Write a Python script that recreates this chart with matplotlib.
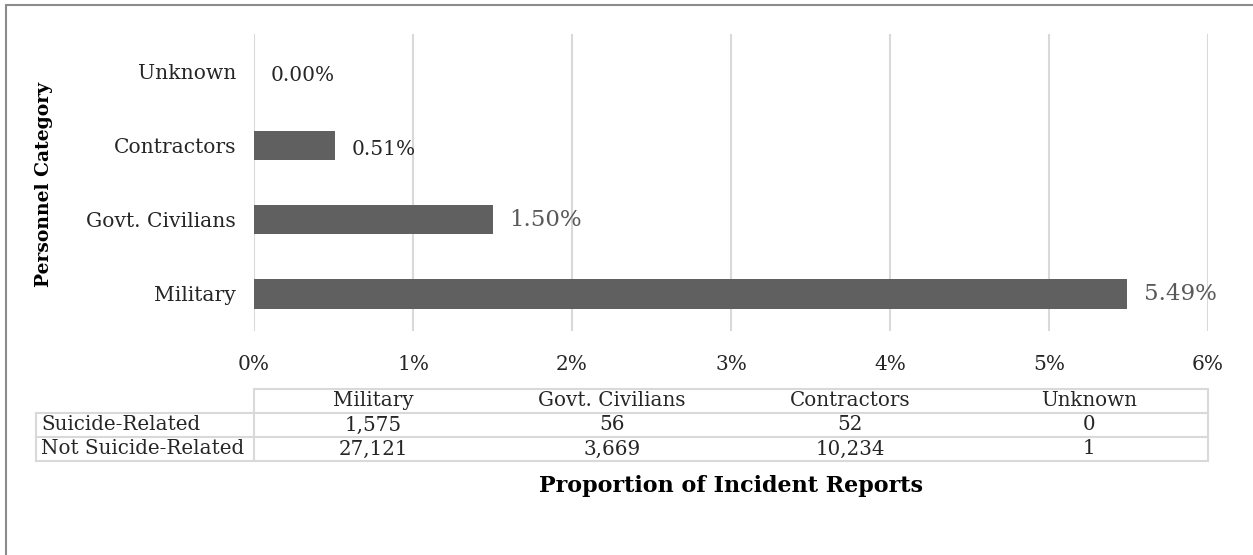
import matplotlib.pyplot as plt
from matplotlib.patches import Rectangle
from matplotlib.ticker import FuncFormatter

# data
categories = ["Military", "Govt. Civilians", "Contractors", "Unknown"]
proportions = [5.49, 1.50, 0.51, 0.00]
label_colors = ["#595959", "#595959", "#262626", "#262626"]
label_sizes = [16.5, 16.5, 14.5, 14.5]
row_names = ["Suicide-Related", "Not Suicide-Related"]
suicide_related = ["1,575", "56", "52", "0"]
not_suicide_related = ["27,121", "3,669", "10,234", "1"]

W, H = 1253, 555
fig = plt.figure(figsize=(W / 100, H / 100), dpi=100)
plt.rcParams["font.family"] = "DejaVu Serif"

# outer frame
fig.patches.append(Rectangle((6 / W, -0.1), 1.2, (H - 5) / H + 0.1, transform=fig.transFigure,
                             fill=False, edgecolor="#8c8c8c", linewidth=1.5))

x0, x1 = 254, 1208
y_top, y_bot = 34, 331
ax = fig.add_axes([x0 / W, 1 - y_bot / H, (x1 - x0) / W, (y_bot - y_top) / H])

ypos = list(range(len(categories)))
ax.barh(ypos, proportions, height=0.4, color="#606060", zorder=3)
for y, v, c, s in zip(ypos, proportions, label_colors, label_sizes):
    ax.annotate(f"{v:.2f}%", (v, y), xytext=(12, -3 if s < 15 else 0), textcoords="offset points",
                color=c, fontsize=s, va="center", ha="left", zorder=4)

ax.set_xlim(0, 6)
ax.set_ylim(-0.5, 3.5)
ax.set_xticks(range(7))
ax.xaxis.set_major_formatter(FuncFormatter(lambda v, p: f"{v:.0f}%"))
ax.set_yticks(ypos)
ax.set_yticklabels(categories)
ax.tick_params(axis="both", length=0, colors="#262626")
ax.tick_params(axis="x", pad=17, labelsize=14.5)
ax.tick_params(axis="y", pad=13, labelsize=14.6)
ax.grid(axis="x", color="#d9d9d9", linewidth=1.5, zorder=0)
for sp in ax.spines.values():
    sp.set_visible(False)

fig.text(44 / W, 1 - 184 / H, "Personnel Category", fontsize=13.5, fontweight="bold",
         rotation=90, ha="center", va="center")

# data table under the axis, drawn in axes fraction coords
def px_x(p):
    return (p - x0) / (x1 - x0)

def px_y(p):
    return (y_bot - p) / (y_bot - y_top)

grid_kw = dict(color="#d9d9d9", linewidth=1.5, transform=ax.transAxes, clip_on=False)
tl, tr = 36, x1
rows_px = [389, 413, 437, 461]
col_w = (x1 - x0) / len(categories)
col_px = [x0 + i * col_w for i in range(len(categories) + 1)]
# header row spans only the data columns; no inner column lines
ax.plot([px_x(x0), px_x(tr)], [px_y(rows_px[0])] * 2, **grid_kw)
for yp in rows_px[1:]:
    ax.plot([px_x(tl), px_x(tr)], [px_y(yp)] * 2, **grid_kw)
ax.plot([px_x(tl)] * 2, [px_y(rows_px[1]), px_y(rows_px[3])], **grid_kw)
for xp in (x0, tr):
    ax.plot([px_x(xp)] * 2, [px_y(rows_px[0]), px_y(rows_px[3])], **grid_kw)

tbl_font = dict(fontsize=14.3, color="#262626", transform=ax.transAxes, va="center", clip_on=False)
for i, name in enumerate(categories):
    cx = px_x(col_px[i] + col_w / 2)
    ax.text(cx, px_y((rows_px[0] + rows_px[1]) / 2), name, ha="center", **tbl_font)
    ax.text(cx, px_y((rows_px[1] + rows_px[2]) / 2), suicide_related[i], ha="center", **tbl_font)
    ax.text(cx, px_y((rows_px[2] + rows_px[3]) / 2), not_suicide_related[i], ha="center", **tbl_font)
for j, name in enumerate(row_names):
    ax.text(px_x(tl + 5), px_y((rows_px[j + 1] + rows_px[j + 2]) / 2), name, ha="left", **tbl_font)

fig.text((x0 + x1) / 2 / W, 1 - 486 / H, "Proportion of Incident Reports",
         fontsize=16, fontweight="bold", ha="center", va="center")

fig.savefig("out.png", dpi=100)
